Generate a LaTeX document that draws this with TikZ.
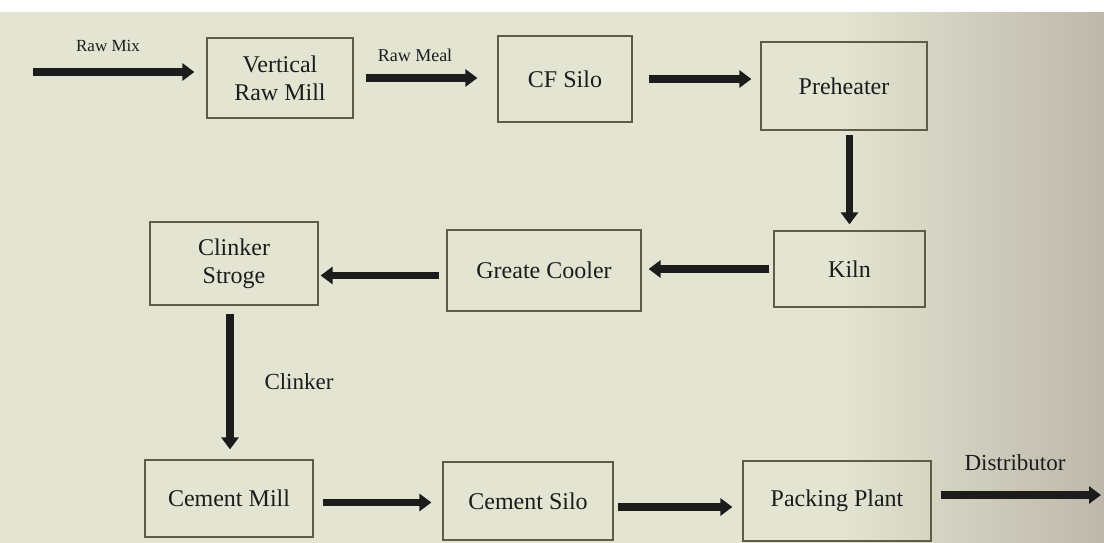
\documentclass[tikz,border=0pt]{standalone}
\usepackage{fontspec}
\setmainfont{Liberation Serif}
\usetikzlibrary{arrows.meta}
\definecolor{bgc}{HTML}{E3E4D1}
\definecolor{bgr}{HTML}{BDB8AB}
\definecolor{edge}{HTML}{5C5C48}
\definecolor{ink}{HTML}{1C1C1C}
\pgfdeclarehorizontalshading{bgshade}{100bp}{color(0bp)=(bgc); color(25bp)=(bgc); color(63bp)=(bgc); color(75bp)=(bgr); color(100bp)=(bgr)}
\begin{document}
\begin{tikzpicture}[x=1pt,y=-1pt,
  box/.style={draw=edge, line width=1.2pt, align=center, text=ink, inner sep=2pt,
    font=\fontsize{24}{28}\selectfont},
  lbl/.style={text=ink, inner sep=1pt},
  flow/.style={line width=7.5pt, draw=ink, -{Triangle[length=12pt,width=17pt]}}]
\useasboundingbox (0,0) rectangle (1104,543);
\shade[shading=bgshade] (0,0) rectangle (1104,543);
\fill[white] (0,0) rectangle (1104,12);

% boxes
\node[box, minimum width=146pt, minimum height=80pt] (vrm) at (280,78) {Vertical\\Raw Mill};
\node[box, minimum width=134pt, minimum height=86pt] (cf) at (565,79) {CF Silo};
\node[box, minimum width=166pt, minimum height=88pt] (pre) at (844,86) {Preheater};
\node[box, minimum width=151pt, minimum height=76pt] (kiln) at (849.5,269) {Kiln};
\node[box, minimum width=194pt, minimum height=81pt] (gc) at (544,270.5) {Greate Cooler};
\node[box, minimum width=168pt, minimum height=83pt] (cs) at (234,263.5) {Clinker\\Stroge};
\node[box, minimum width=168pt, minimum height=77pt] (cm) at (229,498.5) {Cement Mill};
\node[box, minimum width=170pt, minimum height=78pt] (csilo) at (528,501) {Cement Silo};
\node[box, minimum width=188pt, minimum height=80pt] (pp) at (837,501) {Packing Plant};

% free ends
\coordinate (in) at (33,72);
\coordinate (out) at (1101,495);

% labels
\node[lbl, font=\fontsize{17}{20}\selectfont] (lrawmix) at (108,46) {Raw Mix};
\node[lbl, font=\fontsize{18}{21}\selectfont] (lrawmeal) at (415,55) {Raw Meal};
\node[lbl, font=\fontsize{23}{27}\selectfont] (lclinker) at (299,382) {Clinker};
\node[lbl, font=\fontsize{23}{27}\selectfont] (ldist) at (1015,463) {Distributor};

% connectors
\draw[flow, shorten >=12pt] (in) -- (in -| vrm.west);
\draw[flow, shorten <=12pt, shorten >=20pt] (vrm.east) -- (vrm.east -| cf.west);
\draw[flow, shorten <=16pt, shorten >=9pt] (cf.east) -- (cf.east -| pre.west);
\draw[flow, shorten <=4pt, shorten >=6pt] (pre.south -| kiln.north) -- (kiln.north);
\draw[flow, shorten <=4pt, shorten >=7pt] (kiln.west) -- (kiln.west -| gc.east);
\draw[flow, shorten <=7pt, shorten >=2pt] ([yshift=-5pt]gc.west) -- ([yshift=-5pt]gc.west -| cs.east);
\draw[flow, shorten <=8pt, shorten >=10pt] ([xshift=-4pt]cs.south) -- ([xshift=-4pt]cs.south |- cm.north);
\draw[flow, shorten <=9pt, shorten >=11pt] ([yshift=-4pt]cm.east) -- ([yshift=-4pt]cm.east -| csilo.west);
\draw[flow, shorten <=4pt, shorten >=10pt] ([yshift=-6pt]csilo.east) -- ([yshift=-6pt]csilo.east -| pp.west);
\draw[flow, shorten <=9pt] (out -| pp.east) -- (out);
\end{tikzpicture}
\end{document}
